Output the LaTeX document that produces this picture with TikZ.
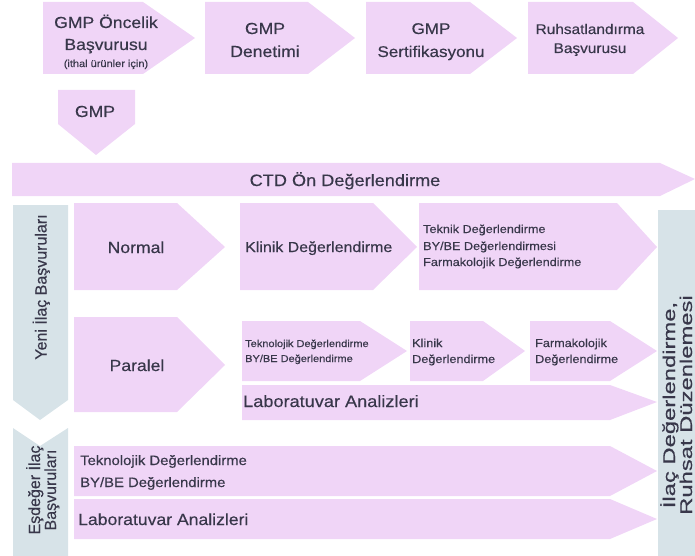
\documentclass[tikz,border=0pt]{standalone}
\usepackage{fontspec}
\setmainfont{Liberation Sans}[FakeStretch=1.1,FakeBold=0.35]
\newfontfamily\dikfont{Liberation Sans}[FakeBold=0.35]
\definecolor{pembe}{rgb}{0.941,0.835,0.969}
\definecolor{gribeyaz}{rgb}{0.843,0.890,0.910}
\definecolor{yazirenk}{rgb}{0.220,0.216,0.290}
\newlength{\du}
\setlength{\du}{1pt}
\newcommand{\yazipt}[1]{\fontsize{#1}{#1}\selectfont}
\tikzset{
  okkutu/.style={fill=pembe},
  serit/.style={fill=gribeyaz},
  yazi/.style={text=yazirenk, inner sep=0pt, anchor=base},
  solyazi/.style={yazi, anchor=base west},
  dikyazi/.style={yazi, rotate=90},
}

\begin{document}
\begin{tikzpicture}
\pgftransformxscale{1.000000}
\pgftransformyscale{-1.000000}
\useasboundingbox (0\du,0\du) rectangle (695\du,556\du);
\clip (0\du,0\du) rectangle (695\du,556\du);
% ust sira
\fill[okkutu] (43\du,2\du)--(143\du,2\du)--(195\du,38\du)--(143\du,74\du)--(43\du,74\du)--cycle;
\fill[okkutu] (205\du,2\du)--(308\du,2\du)--(355\du,38\du)--(308\du,74\du)--(205\du,74\du)--cycle;
\fill[okkutu] (366\du,2\du)--(470\du,2\du)--(517\du,38\du)--(470\du,74\du)--(366\du,74\du)--cycle;
\fill[okkutu] (528\du,2\du)--(633\du,2\du)--(678\du,38\du)--(633\du,74\du)--(528\du,74\du)--cycle;
\fill[okkutu] (58\du,90\du)--(135\du,90\du)--(135\du,124\du)--(96\du,155\du)--(58\du,124\du)--cycle;
% CTD
\fill[okkutu] (12\du,163\du)--(660\du,163\du)--(695\du,179\du)--(660\du,196\du)--(12\du,196\du)--cycle;
% yeni ilac
\fill[serit] (13\du,205\du)--(68\du,205\du)--(68\du,400\du)--(40\du,420\du)--(13\du,400\du)--cycle;
\fill[okkutu] (74\du,203\du)--(177\du,203\du)--(225\du,247\du)--(177\du,290\du)--(74\du,290\du)--cycle;
\fill[okkutu] (240\du,203\du)--(373\du,203\du)--(417\du,247\du)--(373\du,290\du)--(240\du,290\du)--cycle;
\fill[okkutu] (419\du,203\du)--(617\du,203\du)--(657\du,247\du)--(617\du,290\du)--(419\du,290\du)--cycle;
\fill[okkutu] (74\du,317\du)--(177\du,317\du)--(225\du,365\du)--(177\du,412\du)--(74\du,412\du)--cycle;
\fill[okkutu] (242\du,321\du)--(360\du,321\du)--(407\du,351\du)--(360\du,381\du)--(242\du,381\du)--cycle;
\fill[okkutu] (410\du,321\du)--(483\du,321\du)--(525\du,351\du)--(483\du,381\du)--(410\du,381\du)--cycle;
\fill[okkutu] (530\du,321\du)--(610\du,321\du)--(657\du,351\du)--(610\du,381\du)--(530\du,381\du)--cycle;
\fill[okkutu] (242\du,385\du)--(610\du,385\du)--(657\du,402\du)--(610\du,420\du)--(242\du,420\du)--cycle;
% esdeger ilac
\fill[serit] (13\du,428\du)--(40\du,446\du)--(68\du,428\du)--(68\du,560\du)--(13\du,560\du)--cycle;
\fill[okkutu] (74\du,446\du)--(610\du,446\du)--(657\du,471\du)--(610\du,496\du)--(74\du,496\du)--cycle;
\fill[okkutu] (74\du,499\du)--(610\du,499\du)--(657\du,519\du)--(610\du,539\du)--(74\du,539\du)--cycle;
% sag serit
\fill[serit] (658\du,210\du)--(695\du,210\du)--(695\du,560\du)--(658\du,560\du)--cycle;

\node[yazi, font=\yazipt{16}] (oncelik1) at (106\du,28\du){GMP Öncelik};
\node[yazi, font=\yazipt{16}] (oncelik2) at (106\du,50\du){Başvurusu};
\node[yazi, font=\yazipt{10}] (oncelik3) at (106\du,67\du){(ithal ürünler için)};
\node[yazi, font=\yazipt{16}] (denetim1) at (265\du,34\du){GMP};
\node[yazi, font=\yazipt{16}] (denetim2) at (265\du,57\du){Denetimi};
\node[yazi, font=\yazipt{15.5}] (sertifika1) at (431\du,34\du){GMP};
\node[yazi, font=\yazipt{15.5}] (sertifika2) at (431\du,57\du){Sertifikasyonu};
\node[yazi, font=\yazipt{14}] (ruhsat1) at (590\du,34\du){Ruhsatlandırma};
\node[yazi, font=\yazipt{14}] (ruhsat2) at (590\du,53\du){Başvurusu};
\node[yazi, font=\yazipt{16}] (gmp) at (95\du,117\du){GMP};
\node[yazi, font=\yazipt{16.5}] (ctd) at (345\du,186\du){CTD Ön Değerlendirme};

\node[dikyazi, font=\dikfont\yazipt{16}] (yeni) at (46.5\du,287\du){Yeni İlaç Başvuruları};
\node[yazi, font=\yazipt{16}] (normal) at (136\du,253\du){Normal};
\node[solyazi, font=\yazipt{14.5}] (klinik) at (245\du,252\du){Klinik Değerlendirme};
\node[solyazi, font=\yazipt{11.5}] (teknik1) at (423\du,233\du){Teknik Değerlendirme};
\node[solyazi, font=\yazipt{11.5}] (teknik2) at (423\du,250\du){BY/BE Değerlendirmesi};
\node[solyazi, font=\yazipt{11.5}] (teknik3) at (423\du,266\du){Farmakolojik Değerlendirme};
\node[yazi, font=\yazipt{16}] (paralel) at (137\du,371\du){Paralel};
\node[solyazi, font=\yazipt{10}] (teknoloji1) at (245\du,347\du){Teknolojik Değerlendirme};
\node[solyazi, font=\yazipt{10}] (teknoloji2) at (245\du,362\du){BY/BE Değerlendirme};
\node[solyazi, font=\yazipt{11.5}] (klinikp1) at (412\du,347\du){Klinik};
\node[solyazi, font=\yazipt{11.5}] (klinikp2) at (412\du,363\du){Değerlendirme};
\node[solyazi, font=\yazipt{11.5}] (farma1) at (535\du,347\du){Farmakolojik};
\node[solyazi, font=\yazipt{11.5}] (farma2) at (535\du,363\du){Değerlendirme};
\node[solyazi, font=\yazipt{16.5}] (lab) at (243\du,407\du){Laboratuvar Analizleri};

\node[dikyazi, font=\dikfont\yazipt{16}] (esdeger1) at (40\du,490\du){Eşdeğer İlaç};
\node[dikyazi, font=\dikfont\yazipt{16}] (esdeger2) at (56\du,490\du){Başvuruları};
\node[solyazi, font=\yazipt{13.5}] (esdtekno1) at (80\du,465\du){Teknolojik Değerlendirme};
\node[solyazi, font=\yazipt{13.5}] (esdtekno2) at (80\du,487\du){BY/BE Değerlendirme};
\node[solyazi, font=\yazipt{16}] (esdlab) at (78\du,525\du){Laboratuvar Analizleri};

\node[dikyazi, xscale=1.4, font=\dikfont\yazipt{17}] (sag1) at (675\du,405\du){İlaç Değerlendirme,};
\node[dikyazi, xscale=1.4, font=\dikfont\yazipt{17}] (sag2) at (692\du,405\du){Ruhsat Düzenlemesi};
\end{tikzpicture}
\end{document}
